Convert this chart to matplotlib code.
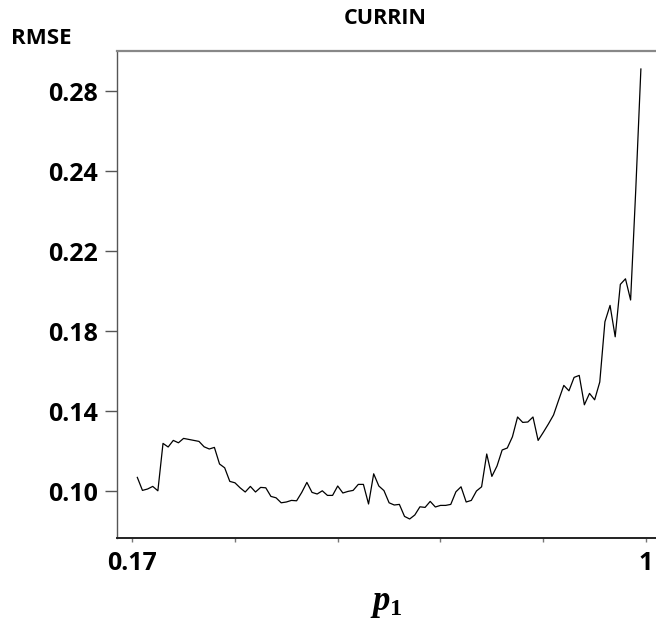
import matplotlib
matplotlib.use("Agg")
import matplotlib.pyplot as plt
import numpy as np

plt.rcParams["font.family"] = ["Open Sans", "DejaVu Sans"]
plt.rcParams["mathtext.fontset"] = "custom"
plt.rcParams["mathtext.it"] = "Liberation Serif:italic:bold"
plt.rcParams["mathtext.rm"] = "Liberation Serif:bold"

# p1 sweep and the resulting RMSE
p1 = np.linspace(0.1786, 0.9916, 99)
rmse = [
    0.1070, 0.1005, 0.1012, 0.1025, 0.1003, 0.1240, 0.1222, 0.1255, 0.1243, 0.1265,
    0.1260, 0.1255, 0.1250, 0.1223, 0.1212, 0.1220, 0.1137, 0.1118, 0.1050, 0.1043,
    0.1018, 0.0997, 0.1025, 0.0997, 0.1020, 0.1018, 0.0975, 0.0968, 0.0943, 0.0947,
    0.0955, 0.0953, 0.0995, 0.1045, 0.0995, 0.0987, 0.1003, 0.0980, 0.0980, 0.1027,
    0.0992, 0.1000, 0.1005, 0.1035, 0.1035, 0.0937, 0.1088, 0.1027, 0.1004, 0.0943,
    0.0932, 0.0935, 0.0875, 0.0862, 0.0882, 0.0923, 0.0920, 0.0950, 0.0922, 0.0930,
    0.0930, 0.0935, 0.0998, 0.1023, 0.0947, 0.0955, 0.1002, 0.1023, 0.1187, 0.1075,
    0.1127, 0.1207, 0.1217, 0.1273, 0.1372, 0.1345, 0.1347, 0.1372, 0.1255, 0.1295,
    0.1337, 0.1382, 0.1457, 0.1530, 0.1503, 0.1570, 0.1580, 0.1433, 0.1490, 0.1458,
    0.1547, 0.1848, 0.1930, 0.1773, 0.2035, 0.2063, 0.1957, 0.2507, 0.3112,
]

y_ticks = [0.10, 0.14, 0.18, 0.22, 0.26, 0.30]
y_tick_labels = ["0.10", "0.14", "0.18", "0.22", "0.24", "0.28"]
x_ticks = [0.17, 1.0]
x_tick_labels = ["0.17", "1"]
x_minor_ticks = [0.336, 0.502, 0.668, 0.834]

W, H = 656, 621
fig = plt.figure(figsize=(W / 100, H / 100), dpi=100)
ax = fig.add_axes([117 / W, (H - 538) / H, (W - 117) / W, (538 - 51) / H])

ax.plot(p1, rmse, color="black", linewidth=0.9)

ax.set_xlim(0.1458, 1.016)
ax.set_ylim(0.0767, 0.3202)

ax.set_yticks(y_ticks)
ax.set_yticklabels(y_tick_labels, fontsize=18, fontweight="bold")
ax.set_xticks(x_ticks)
ax.set_xticklabels(x_tick_labels, fontsize=18, fontweight="bold")
ax.set_xticks(x_minor_ticks, minor=True)

ax.tick_params(axis="y", direction="out", length=9, width=1, color="#555555", pad=5)
ax.tick_params(axis="x", which="both", direction="out", length=3, width=1,
               color="#777777", pad=6)

ax.spines["right"].set_visible(False)
ax.spines["left"].set_color("#555555")
ax.spines["left"].set_linewidth(1.0)
ax.spines["top"].set_color("#888888")
ax.spines["top"].set_linewidth(1.6)
ax.spines["bottom"].set_color("#222222")
ax.spines["bottom"].set_linewidth(1.4)

fig.text(385 / W, 1 - 18 / H, "CURRIN", ha="center", va="center",
         fontsize=15.5, fontweight="bold")
fig.text(41 / W, 1 - 38 / H, "RMSE", ha="center", va="center",
         fontsize=16, fontweight="bold")
fig.text(386 / W, 1 - 603 / H, r"$p_1$", ha="center", va="center", fontsize=25)

fig.savefig("out.png", dpi=100)
